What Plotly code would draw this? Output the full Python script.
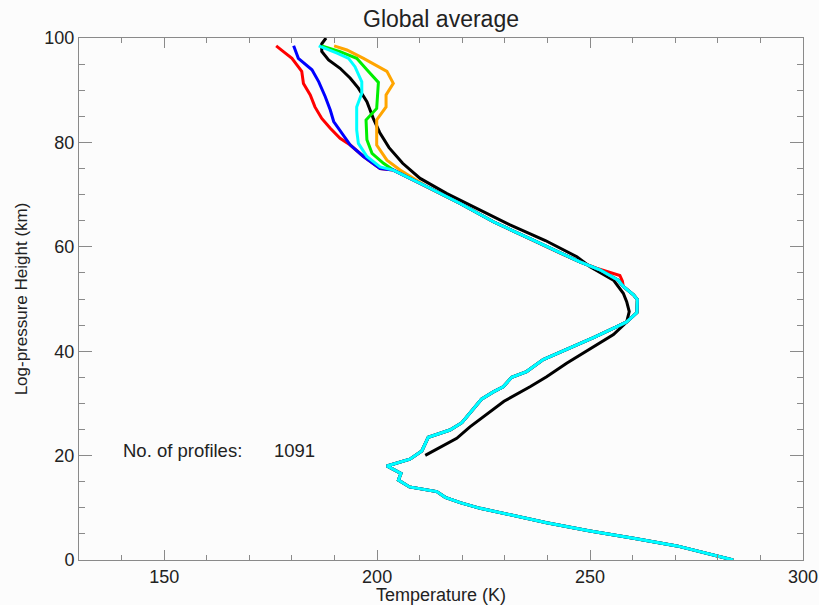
import plotly.graph_objects as go

# ---- data (temperature K vs log-pressure height km) ----
# lower profile shared by all coloured series (0 - 52.4 km)
low_T = [283.6, 270.4, 260.2, 250.0, 239.8, 233.6, 224.2, 219.5, 216.0,
         214.0, 207.6, 205.0, 205.6, 203.7, 202.3, 207.7, 210.5, 212.0, 217.1,
         219.9, 221.8, 224.5, 227.3, 229.6, 231.6, 235.1, 239.0, 241.0, 246.1,
         250.8, 256.3, 258.6, 261.0, 261.1, 260.2, 257.8]
low_z = [0.0, 2.7, 4.15, 5.56, 7.15, 8.2, 9.9, 11.0, 12.0,
         13.1, 14.0, 15.3, 16.6, 17.4, 18.0, 19.3, 20.9, 23.5, 24.9,
         26.3, 28.1, 30.8, 32.2, 33.2, 35.0, 36.1, 38.4, 39.1, 40.9,
         42.6, 44.7, 45.6, 47.4, 49.9, 50.8, 52.4]
# shared middle part (53.6 - 71.5 km)
mid_T = [256.6, 252.3, 247.6, 243.0, 236.0, 227.3, 219.5, 211.7]
mid_z = [53.6, 55.6, 57.1, 58.8, 61.5, 64.8, 68.3, 71.5]
# red has a small warm bump near 54 km instead of the shared 53.6-55.6 km points
red_bump_T = [257.6, 257.0, 251.5]
red_bump_z = [53.4, 54.5, 55.9]

# upper parts of each coloured series
red_T = [203.8, 200.7, 196.8, 193.7, 191.3, 189.0, 187.0, 185.4, 184.3, 182.7, 182.3, 181.2, 180.0, 178.0, 176.3]
red_z = [74.7, 75.0, 77.3, 79.5, 80.8, 82.7, 84.6, 86.8, 89.1, 91.3, 93.6, 94.8, 96.1, 97.4, 98.5]

blue_T = [203.8, 200.7, 196.8, 193.7, 191.8, 189.8, 189.0, 187.8, 186.3, 184.7, 181.5, 180.4]
blue_z = [74.7, 75.0, 77.3, 79.5, 81.7, 84.0, 86.2, 88.8, 91.6, 93.9, 96.1, 98.5]

cyan_T = [203.8, 200.7, 197.6, 195.6, 195.2, 195.2, 196.4, 196.4, 194.8, 193.3, 190.6, 186.3]
cyan_z = [74.7, 75.3, 77.3, 79.8, 82.4, 86.8, 89.4, 91.6, 94.5, 96.1, 97.1, 98.5]

green_T = [203.8, 201.5, 198.8, 197.6, 197.4, 199.9, 200.3, 197.6, 195.2, 191.3, 187.0]
green_z = [74.7, 76.0, 77.9, 80.5, 84.3, 86.5, 91.5, 93.9, 96.1, 97.4, 98.5]

orange_T = [205.4, 202.3, 199.9, 199.9, 202.1, 202.1, 203.8, 202.3, 196.8, 192.9, 189.9]
orange_z = [74.7, 76.6, 79.5, 84.3, 86.8, 89.1, 91.3, 93.6, 96.1, 97.7, 98.5]

black_T = [211.3, 218.7, 221.8, 229.8, 235.9, 239.8, 244.5, 250.8, 255.5, 258.6,
           259.2, 258.6, 257.8, 255.5, 250.0, 246.9, 243.7, 239.5, 231.2, 223.4,
           216.4, 210.1, 206.0, 202.8, 200.6, 199.1, 197.6, 195.6, 193.7, 191.3,
           188.6, 187.0, 187.0, 188.0]
black_z = [20.05, 23.3, 25.5, 30.4, 33.2, 35.1, 37.7, 40.9, 43.2, 45.6,
           47.6, 49.5, 51.1, 53.6, 56.2, 58.1, 59.4, 61.2, 64.2, 67.4,
           70.2, 73.1, 76.0, 79.0, 81.9, 84.6, 87.8, 90.4, 92.3, 94.2,
           95.8, 97.4, 98.9, 100.0]

n_profiles = 1091
x_ticks = [150, 200, 250, 300]
y_ticks = [0, 20, 40, 60, 80, 100]

fig = go.Figure()
fig.add_trace(go.Scatter(x=black_T, y=black_z, mode="lines",
                         line=dict(color="black", width=3), showlegend=False))

red_full_T = low_T + red_bump_T + mid_T[2:] + red_T
red_full_z = low_z + red_bump_z + mid_z[2:] + red_z
series = [("red", red_full_T, red_full_z),
          ("orange", low_T + mid_T + orange_T, low_z + mid_z + orange_z),
          ("#00ee00", low_T + mid_T + green_T, low_z + mid_z + green_z),
          ("blue", low_T + mid_T + blue_T, low_z + mid_z + blue_z),
          ("cyan", low_T + mid_T + cyan_T, low_z + mid_z + cyan_z)]
for col, t, z in series:
    fig.add_trace(go.Scatter(x=t, y=z, mode="lines",
                             line=dict(color=col, width=3), showlegend=False))

axis_col = "#8a8a8a"
font_main = "Liberation Sans, Arial, Helvetica, sans-serif"

fig.update_layout(
    width=819, height=605,
    margin=dict(l=79, r=16, t=38, b=45),
    paper_bgcolor="#fcfcfc", plot_bgcolor="#fcfcfc",
    font=dict(family=font_main, size=18, color="#222222"),
    title=dict(text="Global average", x=0.5, xref="paper", xanchor="center",
               y=1 - 19 / 605, yref="container", yanchor="middle",
               font=dict(size=23, color="#222222")),
    xaxis=dict(range=[130, 300], tickvals=x_ticks, ticks="inside", ticklen=10,
               tickcolor=axis_col, showline=True, linecolor=axis_col, linewidth=1,
               mirror="ticks", showgrid=False, zeroline=False, automargin=False,
               minor=dict(dtick=10, tick0=0, ticks="inside", ticklen=5, tickcolor=axis_col, showgrid=False),
               title=dict(text="Temperature (K)", standoff=3, font=dict(size=18))),
    yaxis=dict(range=[0, 100], tickvals=y_ticks, ticks="inside", ticklen=13,
               tickcolor=axis_col, showline=True, linecolor=axis_col, linewidth=1,
               mirror="ticks", showgrid=False, zeroline=False, automargin=False,
               minor=dict(dtick=5, tick0=0, ticks="inside", ticklen=6, tickcolor=axis_col, showgrid=False),
               title=dict(text="Log-pressure Height (km)", standoff=12, font=dict(size=17))),
    annotations=[
        dict(x=139.8, y=20.9, xref="x", yref="y", text="No. of profiles:",
             showarrow=False, xanchor="left", yanchor="middle", font=dict(size=18.5)),
        dict(x=175.35, y=20.9, xref="x", yref="y", text=str(n_profiles),
             showarrow=False, xanchor="left", yanchor="middle", font=dict(size=18.5)),
    ],
)

fig.write_html("out.html")
